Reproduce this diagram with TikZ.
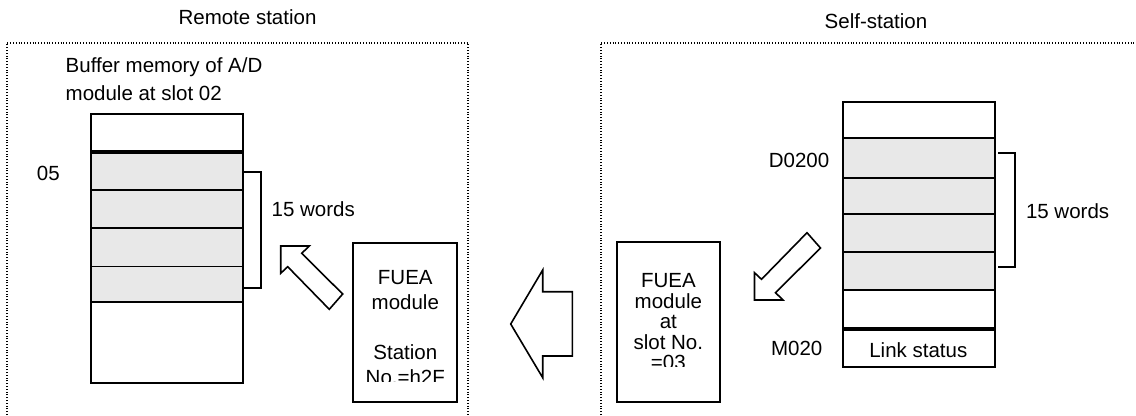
\documentclass[tikz,border=0pt]{standalone}
\usepackage{fontspec}
\setmainfont{Liberation Sans}
\definecolor{cellgrey}{RGB}{232,232,232}
\begin{document}
\begin{tikzpicture}[x=1bp,y=-1bp,
  font=\fontsize{20.5bp}{24bp}\selectfont,
  cell/.style={draw, line width=1.8bp, inner sep=0pt, outer sep=0pt},
  lcell/.style={cell, minimum width=152bp},
  rcell/.style={cell, minimum width=152.3bp},
  grey/.style={fill=cellgrey},
  thickrule/.style={line width=4bp},
  frame/.style={line width=1.3bp, dash pattern=on 1bp off 1.8bp},
  bracket/.style={line width=1.8bp},
  bigarrow/.style={draw, line width=1.6bp, fill=white, line join=miter},
  modbox/.style={draw, line width=1.8bp, inner sep=0pt, outer sep=0pt},
  txt/.style={inner sep=0pt, outer sep=0pt, anchor=base},
  ltxt/.style={inner sep=0pt, outer sep=0pt, anchor=base west}]
\useasboundingbox (0,0) rectangle (1136,415);

% station frames
\draw[frame] (7,415) -- (7,43) -- (468,43) -- (468,415);
\draw[frame] (601,415) -- (601,43) -- (1136,43);
\node[txt] (remote) at (247.5,24) {Remote station};
\node[txt] (self) at (876,28) {Self-station};

% remote buffer memory
\node[ltxt] (buf1) at (65.7,72) {Buffer memory of A/D};
\node[ltxt] (buf2) at (65.7,100) {module at slot 02};
\node[lcell, minimum height=38bp] (L0) at (166.7,133) {};
\node[lcell, grey, minimum height=38bp] (L1) at (166.7,171) {};
\node[lcell, grey, minimum height=38bp] (L2) at (166.7,209) {};
\node[lcell, grey, minimum height=38.5bp] (L3) at (166.7,247.25) {};
\node[lcell, grey, minimum height=35.5bp] (L4) at (166.7,284.25) {};
\node[lcell, minimum height=81bp] (L5) at (166.7,342.5) {};
\draw[thickrule] (L0.south west) -- (L0.south east);
\node[txt] (addr05) at (48.3,180) {05};
\coordinate (lbt) at (243,172);
\coordinate (lbb) at (243,288);
\draw[bracket] (lbt) -- ++(18,0) |- (lbb);
\node[ltxt] (lwords) at (271.7,216.6) {15 words};

% remote FUEA module
\node[modbox, minimum width=104bp, minimum height=159bp] (fuear) at (405.3,322.2) {};
\begin{scope}
  \clip (354,243) rectangle (457,381.5);
  \node[txt] (fr1) at (405.3,284) {FUEA};
  \node[txt] (fr2) at (405.3,309) {module};
  \node[txt] (fr3) at (405.3,359) {Station};
  \node[txt] (fr4) at (405.3,384) {No.=h2F};
\end{scope}

% arrow into remote buffer
\draw[bigarrow] (280.7,246) -- (309.3,246) -- (301.7,253.3) -- (342.7,294)
  -- (329.3,309.3) -- (287.7,266.7) -- (280.7,273.3) -- cycle;

% big transfer arrow
\draw[bigarrow] (510.7,324) -- (542.7,270) -- (542.7,291.7) -- (572.3,291.7)
  -- (572.3,356) -- (542.7,356) -- (542.7,377.7) -- cycle;

% self FUEA module
\node[modbox, minimum width=103.3bp, minimum height=160bp] (fueas) at (668.35,321.7) {};
\begin{scope}
  \clip (617,242) rectangle (719.5,366.5);
  \node[txt] (fs1) at (668.35,287.5) {FUEA};
  \node[txt] (fs2) at (668.35,308) {module};
  \node[txt] (fs3) at (668.35,328.5) {at};
  \node[txt] (fs4) at (668.35,349) {slot No.};
  \node[txt] (fs5) at (668.35,369.5) {=03};
\end{scope}

% arrow out of self memory
\draw[bigarrow] (754.5,300) -- (783,300) -- (775.5,292.7) -- (820.5,248)
  -- (807,232.7) -- (761.5,279.3) -- (754.5,272.7) -- cycle;

% self memory
\node[rcell, minimum height=36bp] (R0) at (918.85,120.3) {};
\node[rcell, grey, minimum height=39.4bp] (R1) at (918.85,158) {};
\node[rcell, grey, minimum height=36.3bp] (R2) at (918.85,195.85) {};
\node[rcell, grey, minimum height=38bp] (R3) at (918.85,233) {};
\node[rcell, grey, minimum height=38bp] (R4) at (918.85,271) {};
\node[rcell, minimum height=38.7bp] (R5) at (918.85,309.35) {};
\node[rcell, minimum height=38.6bp] (R6) at (918.85,348) {};
\node[txt] (link) at (918.3,357.5) {Link status};
\draw[thickrule] (R5.south west) -- (R5.south east);
\node[txt] (d0200) at (799,167) {D0200};
\node[txt] (m020) at (796.7,355.5) {M020};
\coordinate (rbt) at (998,153.3);
\coordinate (rbb) at (998,267.3);
\draw[bracket] (rbt) -- ++(17,0) |- (rbb);
\node[ltxt] (rwords) at (1026,218) {15 words};
\end{tikzpicture}
\end{document}
